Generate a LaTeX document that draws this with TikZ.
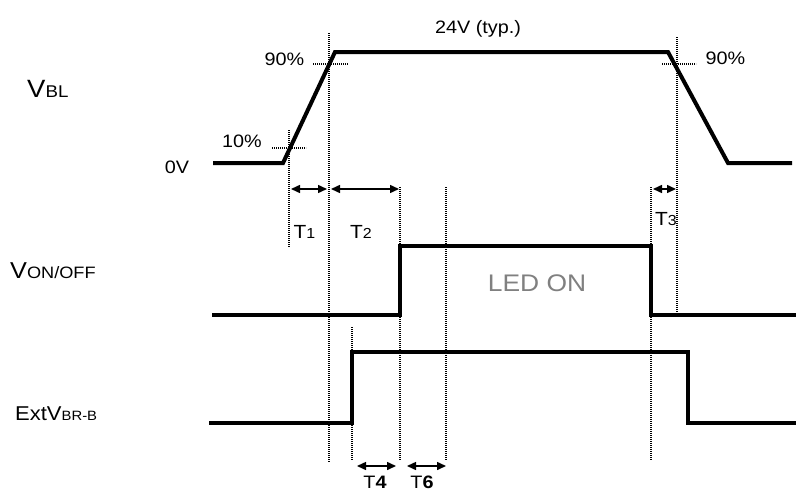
\documentclass[tikz,border=0pt]{standalone}
\usepackage{fontspec}
\setmainfont{Liberation Sans}[FakeStretch=1.1]
\usepackage{tikz}
\usetikzlibrary{arrows.meta}
\definecolor{LedGray}{RGB}{128,128,128}
\newcommand{\fsz}[1]{\fontsize{#1}{#1}\selectfont}

\begin{document}
\begin{tikzpicture}[x=1pt,y=-1pt,
  sig/.style={line width=4pt,line join=miter},
  dots/.style={line width=1.4pt,dash pattern=on 1.1pt off 0.9pt},
  dim/.style={line width=1.5pt,{Triangle[length=9pt,width=8pt]}-{Triangle[length=9pt,width=8pt]}},
  lbl/.style={inner sep=0pt,anchor=base,font=\fsz{18}}]
\useasboundingbox (0,0) rectangle (796,493);
% dotted guide lines
\foreach \x/\a/\b in %
{289/130/247,329/33/462,352/327/460,400/187/460,446/187/460,651/187/460,677/37/312} {
   \draw[dots] (\x,\a) -- (\x,\b);
}
\foreach \a/\b/\y in %
{313/348/64,662/696/64,272/306/148} {
   \draw[dots] (\a,\y) -- (\b,\y);
}
% signals
\draw[sig] (213,163) -- (283,163) -- (335,52) -- (668,52) -- (728,163) -- (792,163);
\draw[sig] (212,315) -- (400,315) -- (400,246) -- (651,246) -- (651,315) -- (796,315);
\draw[sig] (209,423) -- (352,423) -- (352,352) -- (688,352) -- (688,423) -- (796,423);
% timing arrows
\foreach \a/\b/\y in %
{291/327/189,331/399/189,653/676/189,357/396/466,407/446/466} {
   \draw[dim] (\a,\y) -- (\b,\y);
}
% labels
\node[lbl] (typ) at (478,33) {24V (typ.)};
\node[lbl] (r90a) at (284.5,65) {90\%};
\node[lbl] (r90b) at (725.5,64) {90\%};
\node[lbl] (r10) at (242,147) {10\%};
\node[lbl] (zero) at (177,173) {0V};
\node[lbl,anchor=base west] (vbl) at (27,97) {\fsz{25}V\fsz{17}BL};
\node[lbl,anchor=base west] (von) at (10,278) {\fsz{23}V\fsz{16.5}ON/OFF};
\node[lbl,anchor=base west] (ext) at (15,420) {\fsz{20}ExtV\fsz{13.5}BR-B};
\node[lbl,font=\fsz{24},text=LedGray] (led) at (537,291) {LED ON};
\node[lbl,font=\fsz{19}] (t1) at (304.5,238) {T\fsz{14.5}1};
\node[lbl,font=\fsz{19}] (t2) at (361,238) {T\fsz{14.5}2};
\node[lbl,font=\fsz{19}] (t3) at (666,225) {T\fsz{14.5}3};
\node[lbl,font=\fsz{18}] (t4) at (375,488) {T\textbf{4}};
\node[lbl,font=\fsz{18}] (t6) at (422,488) {T\textbf{6}};
\end{tikzpicture}
\end{document}
